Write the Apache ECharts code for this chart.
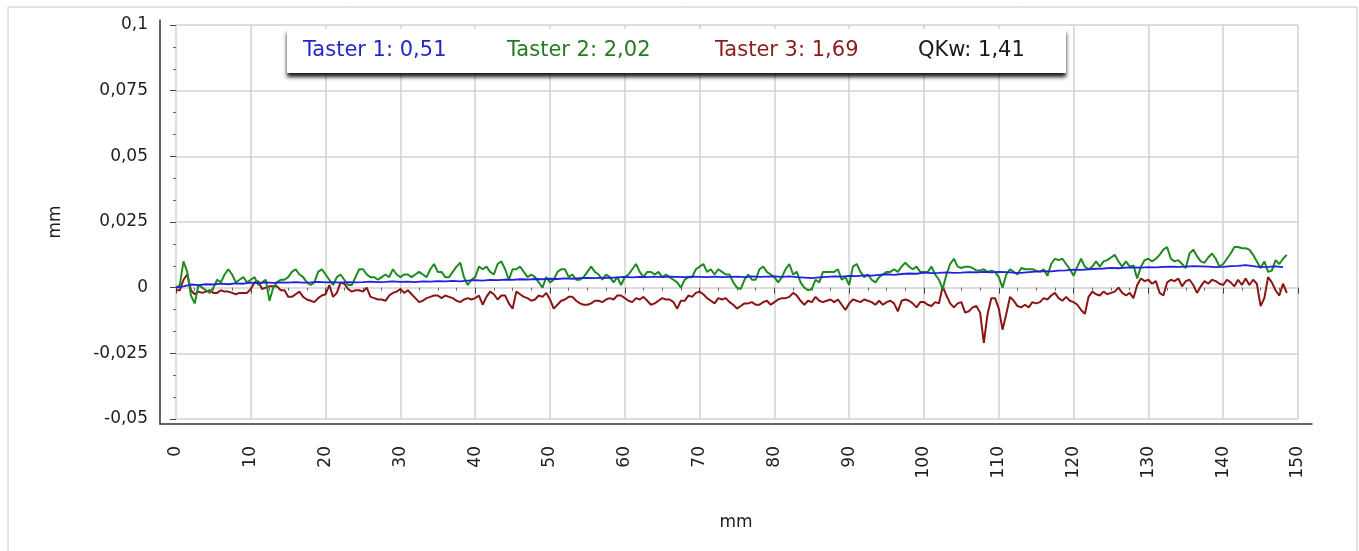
<!DOCTYPE html>
<html lang="de">
<head>
<meta charset="UTF-8">
<title>Taster</title>
<script src="https://cdn.jsdelivr.net/npm/echarts@6/dist/echarts.min.js"></script>
<style>
  html, body { margin: 0; padding: 0; background: #fff; }
  #chart { width: 1359px; height: 551px; }
</style>
</head>
<body>
<div id="chart"></div>
<script>
// Messwerte in µm (Achse zeigt mm), Abstand der Punkte in mm
var stepBlue = 1;
var stepFine = 0.5;

var taster1 = [
  0, 0.5, 1.2, 1, 1.3, 1.2, 1.5, 1.3, 1.6, 1.5,
  1.9, 1.7, 2, 1.8, 2, 1.9, 2.1, 1.9, 2, 2.2,
  2, 2.1, 1.9, 2.1, 2, 2.1, 2.3, 2.1, 2.2, 2.4,
  2.2, 2.3, 2.1, 2.4, 2.3, 2.5, 2.4, 2.6, 2.4, 2.7,
  2.9, 2.7, 3, 2.9, 3.1, 3, 3.2, 3.1, 3.3, 3.2,
  3.4, 3.3, 3.5, 3.4, 3.6, 3.7, 3.6, 3.8, 3.7, 3.9,
  4.1, 3.9, 4.1, 4, 4.2, 4, 4.2, 4.1, 4, 4.2,
  4.1, 4, 4.2, 4, 4.1, 4.2, 4, 4.3, 4.1, 4.2,
  4.3, 4.1, 4.3, 4, 3.8, 3.6, 3.9, 4.1, 4.3, 4.2,
  4.5, 4.4, 4.7, 4.6, 4.9, 5.1, 4.9, 5.2, 5.4, 5.3,
  5.7, 5.5, 5.6, 5.8, 5.6, 5.7, 5.9, 5.8, 6, 5.8,
  6, 5.9, 5.7, 5.6, 5.9, 6.1, 6.3, 6.2, 6.5, 6.6,
  6.9, 6.8, 7, 7.2, 7.3, 7.5, 7.4, 7.6, 7.7, 7.6,
  7.8, 7.7, 7.9, 8, 7.9, 8, 8.2, 8.1, 8, 7.8,
  7.9, 8.2, 8.3, 8.6, 8.2, 7.8, 7.9, 8.1, 7.8
];

var taster2 = [
  0, 1, 10, 6, -3, -6, 1, 0, -1, -2,
  0, 3, 2, 5, 7, 5, 2, 3, 4, 2,
  3, 4, 1, 2, 3, -5, 0, 2, 3, 3,
  4, 6, 7, 5, 4, 2, 1, 2, 6, 7,
  5, 3, 1, 4, 5, 3, 1, 1, 4, 7,
  7, 5, 4, 4, 3, 4, 5, 4, 7, 5,
  4, 5, 5, 4, 5, 6, 5, 4, 7, 9,
  6, 6, 4, 4,
  6, 8, 9.5, 4, 1, 3,
  4, 8, 7, 8, 6, 5, 9, 10, 7, 3,
  7, 7, 8, 6, 4, 5, 4, 2, 0, 4,
  2, 3, 6, 7, 7, 4, 5, 3, 3, 4,
  6, 8, 6, 5, 3, 5, 4, 2, 4, 1,
  4, 5, 7, 9, 6, 4, 6, 6, 5, 6,
  4, 5, 4, 3, 2, 0, 3, 4, 4, 7,
  8, 9, 6, 7, 5, 7, 6, 5, 5, 2,
  0,
  -0.5,
  3, 5, 3, 3, 7, 8, 6, 5,
  4, 2, 4, 7, 9, 5, 6, 2, 0, -1,
  -0.5, 3, 2, 6, 6, 6, 6, 7, 3, 4,
  1, 8, 9, 6, 4, 5, 3, 2, 4, 5,
  6, 6, 7, 6, 8, 9.5, 8, 7, 8, 6,
  6, 6, 8, 5, 3, -0.5, 5, 9, 11, 8,
  7.5, 8, 8, 7.5, 6.5, 6.5, 7, 6, 6.5, 6,
  4, 0, 5, 7, 6,
  5,
  7.5, 7, 7, 7, 6.5, 6, 7, 4.5, 9, 11,
  10.5, 11, 9, 7, 4.5, 8, 11, 8, 7, 8,
  10, 8, 10, 10.5, 11.5, 12.5, 10, 8, 10, 8,
  8.5, 3.5, 8, 10.5, 11, 10, 11, 12.5, 14.5, 15.5,
  11, 10, 10.5, 9, 7.5, 13, 14.5, 12, 10, 9.5,
  11.5, 13, 11, 8, 9, 11, 13, 15.5, 15.5, 15,
  15, 14.5, 12.5, 10, 7.5, 10, 6, 6.5, 10.5, 9,
  11, 12.5
];

var taster3 = [
  -1, -1, 3, 5, -1, -2.5, -1.5, -2, -1.5, -1,
  -2, -2, -1, -1.5, -1.5, -2, -2.5, -2, -2, -2,
  -0.5, 2, 2.5, -0.5, 0, 0.5, 0.5, 0.5, -1, -1,
  -3.5, -3.5, -2.5, -1.5, -3.5, -4.5, -5, -5.5, -4, -3,
  -2.5, 1, -3.5, -2, 2, 1.5, -0.5, -1.5, -1, -1,
  -1.5, 0, -3.5, -4, -4.5, -4.5, -5, -3, -2, -1.5,
  -0.5, -2, -1, -2.5, -4, -5.5, -5, -4, -3.5, -3,
  -3, -4, -3, -3.5,
  -4, -5, -5.5, -4.5, -4, -4.5,
  -4, -3, -6.5, -3.5, -1.5, -2.5, -4.5, -3, -3, -6,
  -8, -1.5, -2.5, -3.5, -4, -5, -4.5, -3, -3.5, -2,
  -4.5, -8, -6.5, -5, -4.5, -3.5, -3.5, -5, -6, -6.5,
  -6.5, -6, -5, -5, -5.5, -4.5, -4, -4.5, -3, -3,
  -4, -5, -5.5, -4, -4.5, -3.5, -5, -6.5, -6, -5,
  -4, -4.5, -4.5, -5.5, -8, -5, -5, -3, -3.5, -2,
  -1.5, -2.5, -4, -5, -6, -4, -4.5, -4, -5.5, -6.5,
  -8,
  -7,
  -6, -6, -5.5, -6.5, -6.5, -5.5, -5, -6.5,
  -5.5, -4.5, -4, -4, -3.5, -2, -3, -5, -6.5, -5,
  -5.5, -3.5, -5, -5.5, -5, -4.5, -5.5, -4.5, -6.5, -8.5,
  -6, -4.5, -5, -5.5, -4.5, -5, -5.5, -6.5, -5, -6.5,
  -5.5, -5, -6, -9, -5, -4.5, -5, -6, -7.5, -5.5,
  -5.5, -6.5, -7, -5.5, -6, 0.5, -3, -6, -7.5, -6,
  -5.5, -9.5, -9, -7.5, -7, -9.5, -21, -10, -4, -4,
  -8, -16, -10, -3.5, -5,
  -7,
  -7.5, -6.5, -7.5, -5.5, -6, -5.5, -4, -4.5, -3, -2,
  -4, -5, -3.5, -5, -5.5, -6.5, -8.5, -10, -3.5, -1.5,
  -2.5, -3, -1.5, -2.5, -2, -1.5, 0, -2, -3, -2,
  -4, 1, 3.5, 2.5, 3, 1.5, 2.5, -2, -3, 2,
  3, 2.5, 3.5, 0.5, 2.5, 3, 1, -2, 0.5, 2.5,
  1.5, 3, 2.5, 1.5, 1, 3, 2, 0.5, 3, 1,
  3.5, 1, 3, 1.5, -7, -4, 4, 2, -1, -3,
  1.5, -2
];

var legendNames = ['Taster 1', 'Taster 2', 'Taster 3', 'QKw'];
var legendValues = ['0,51', '2,02', '1,69', '1,41'];

var yTicks = [-50, -25, 0, 25, 50, 75, 100];
var yTickLabels = ['-0,05', '-0,025', '0', '0,025', '0,05', '0,075', '0,1'];

var colors = ['#2020e0', '#1f8a1f', '#8a1515'];
var legendColors = ['#2626c8', '#237a23', '#8b1c1c', '#1a1a1a'];
var legendX = [303, 507, 715, 918];
var font = 'DejaVu Sans';

function toPairs(arr, step) {
  return arr.map(function (v, i) { return [i * step, v]; });
}

var legendTexts = legendNames.map(function (n, i) {
  return {
    type: 'text',
    x: legendX[i],
    y: 51,
    z: 101,
    style: {
      text: n + ': ' + legendValues[i],
      fill: legendColors[i],
      fontFamily: font,
      fontSize: 21,
      verticalAlign: 'middle'
    }
  };
});

var labelStyle = { color: '#1e1e1e', fontFamily: font, fontSize: 17 };

var option = {
  animation: false,
  backgroundColor: '#fff',
  grid: [
    { left: 160, right: 47, top: 20, bottom: 127 },   // Rahmen der Achsen
    { left: 176, right: 61, top: 25, bottom: 132 }    // Datenbereich
  ],
  xAxis: [
    {
      gridIndex: 0, type: 'value', min: 0, max: 1,
      axisLine: { show: true, lineStyle: { color: '#333', width: 1.5 } },
      axisTick: { show: false }, axisLabel: { show: false }, splitLine: { show: false },
      name: 'mm', nameLocation: 'middle', nameGap: 90,
      nameTextStyle: labelStyle
    },
    {
      gridIndex: 1, type: 'value', min: 0, max: 150, interval: 10, offset: 5,
      axisLine: { show: false },
      axisTick: { show: true, length: 6, lineStyle: { color: '#444' } },
      minorTick: { show: true, splitNumber: 4, length: 3, lineStyle: { color: '#666' } },
      axisLabel: Object.assign({ rotate: 90, margin: 22, showMinLabel: true, showMaxLabel: true }, labelStyle),
      splitLine: { show: true, lineStyle: { color: '#d2d2d2', width: 1.5 } }
    }
  ],
  yAxis: [
    {
      gridIndex: 0, type: 'value', min: 0, max: 1,
      axisLine: { show: true, lineStyle: { color: '#333', width: 1.5 } },
      axisTick: { show: false }, axisLabel: { show: false }, splitLine: { show: false },
      name: 'mm', nameLocation: 'middle', nameGap: 96,
      nameTextStyle: labelStyle
    },
    {
      gridIndex: 1, type: 'value', min: -50, max: 100, interval: 25, offset: 16,
      axisLine: { show: false },
      axisTick: { show: true, length: 6, lineStyle: { color: '#444' } },
      minorTick: { show: true, splitNumber: 3, length: 3, lineStyle: { color: '#666' } },
      axisLabel: Object.assign({
        margin: 12,
        formatter: function (v) {
          var i = yTicks.indexOf(Math.round(v));
          return i >= 0 ? yTickLabels[i] : '';
        }
      }, labelStyle),
      splitLine: { show: true, lineStyle: { color: '#d2d2d2', width: 1.5 } }
    }
  ],
  graphic: [
    {
      type: 'rect', silent: true, z: 100,
      shape: { x: 8, y: 7, width: 1349, height: 600 },
      style: { fill: 'none', stroke: '#c8c8c8', lineWidth: 1 }
    },
    {
      type: 'rect', silent: true, z: 100,
      shape: { x: 287, y: 29, width: 779, height: 44 },
      style: {
        fill: '#fff',
        shadowColor: 'rgba(0,0,0,0.9)', shadowBlur: 4, shadowOffsetY: 4
      }
    }
  ].concat(legendTexts),
  series: [
    {
      name: legendNames[2], type: 'line', xAxisIndex: 1, yAxisIndex: 1,
      data: toPairs(taster3, stepFine), showSymbol: false,
      lineStyle: { color: colors[2], width: 2 }
    },
    {
      name: legendNames[1], type: 'line', xAxisIndex: 1, yAxisIndex: 1,
      data: toPairs(taster2, stepFine), showSymbol: false,
      lineStyle: { color: colors[1], width: 2 }
    },
    {
      name: legendNames[0], type: 'line', xAxisIndex: 1, yAxisIndex: 1,
      data: toPairs(taster1, stepBlue), showSymbol: false,
      lineStyle: { color: colors[0], width: 1.8 }
    }
  ]
};

var myChart = echarts.init(document.getElementById('chart'));
myChart.setOption(option);
</script>
</body>
</html>
